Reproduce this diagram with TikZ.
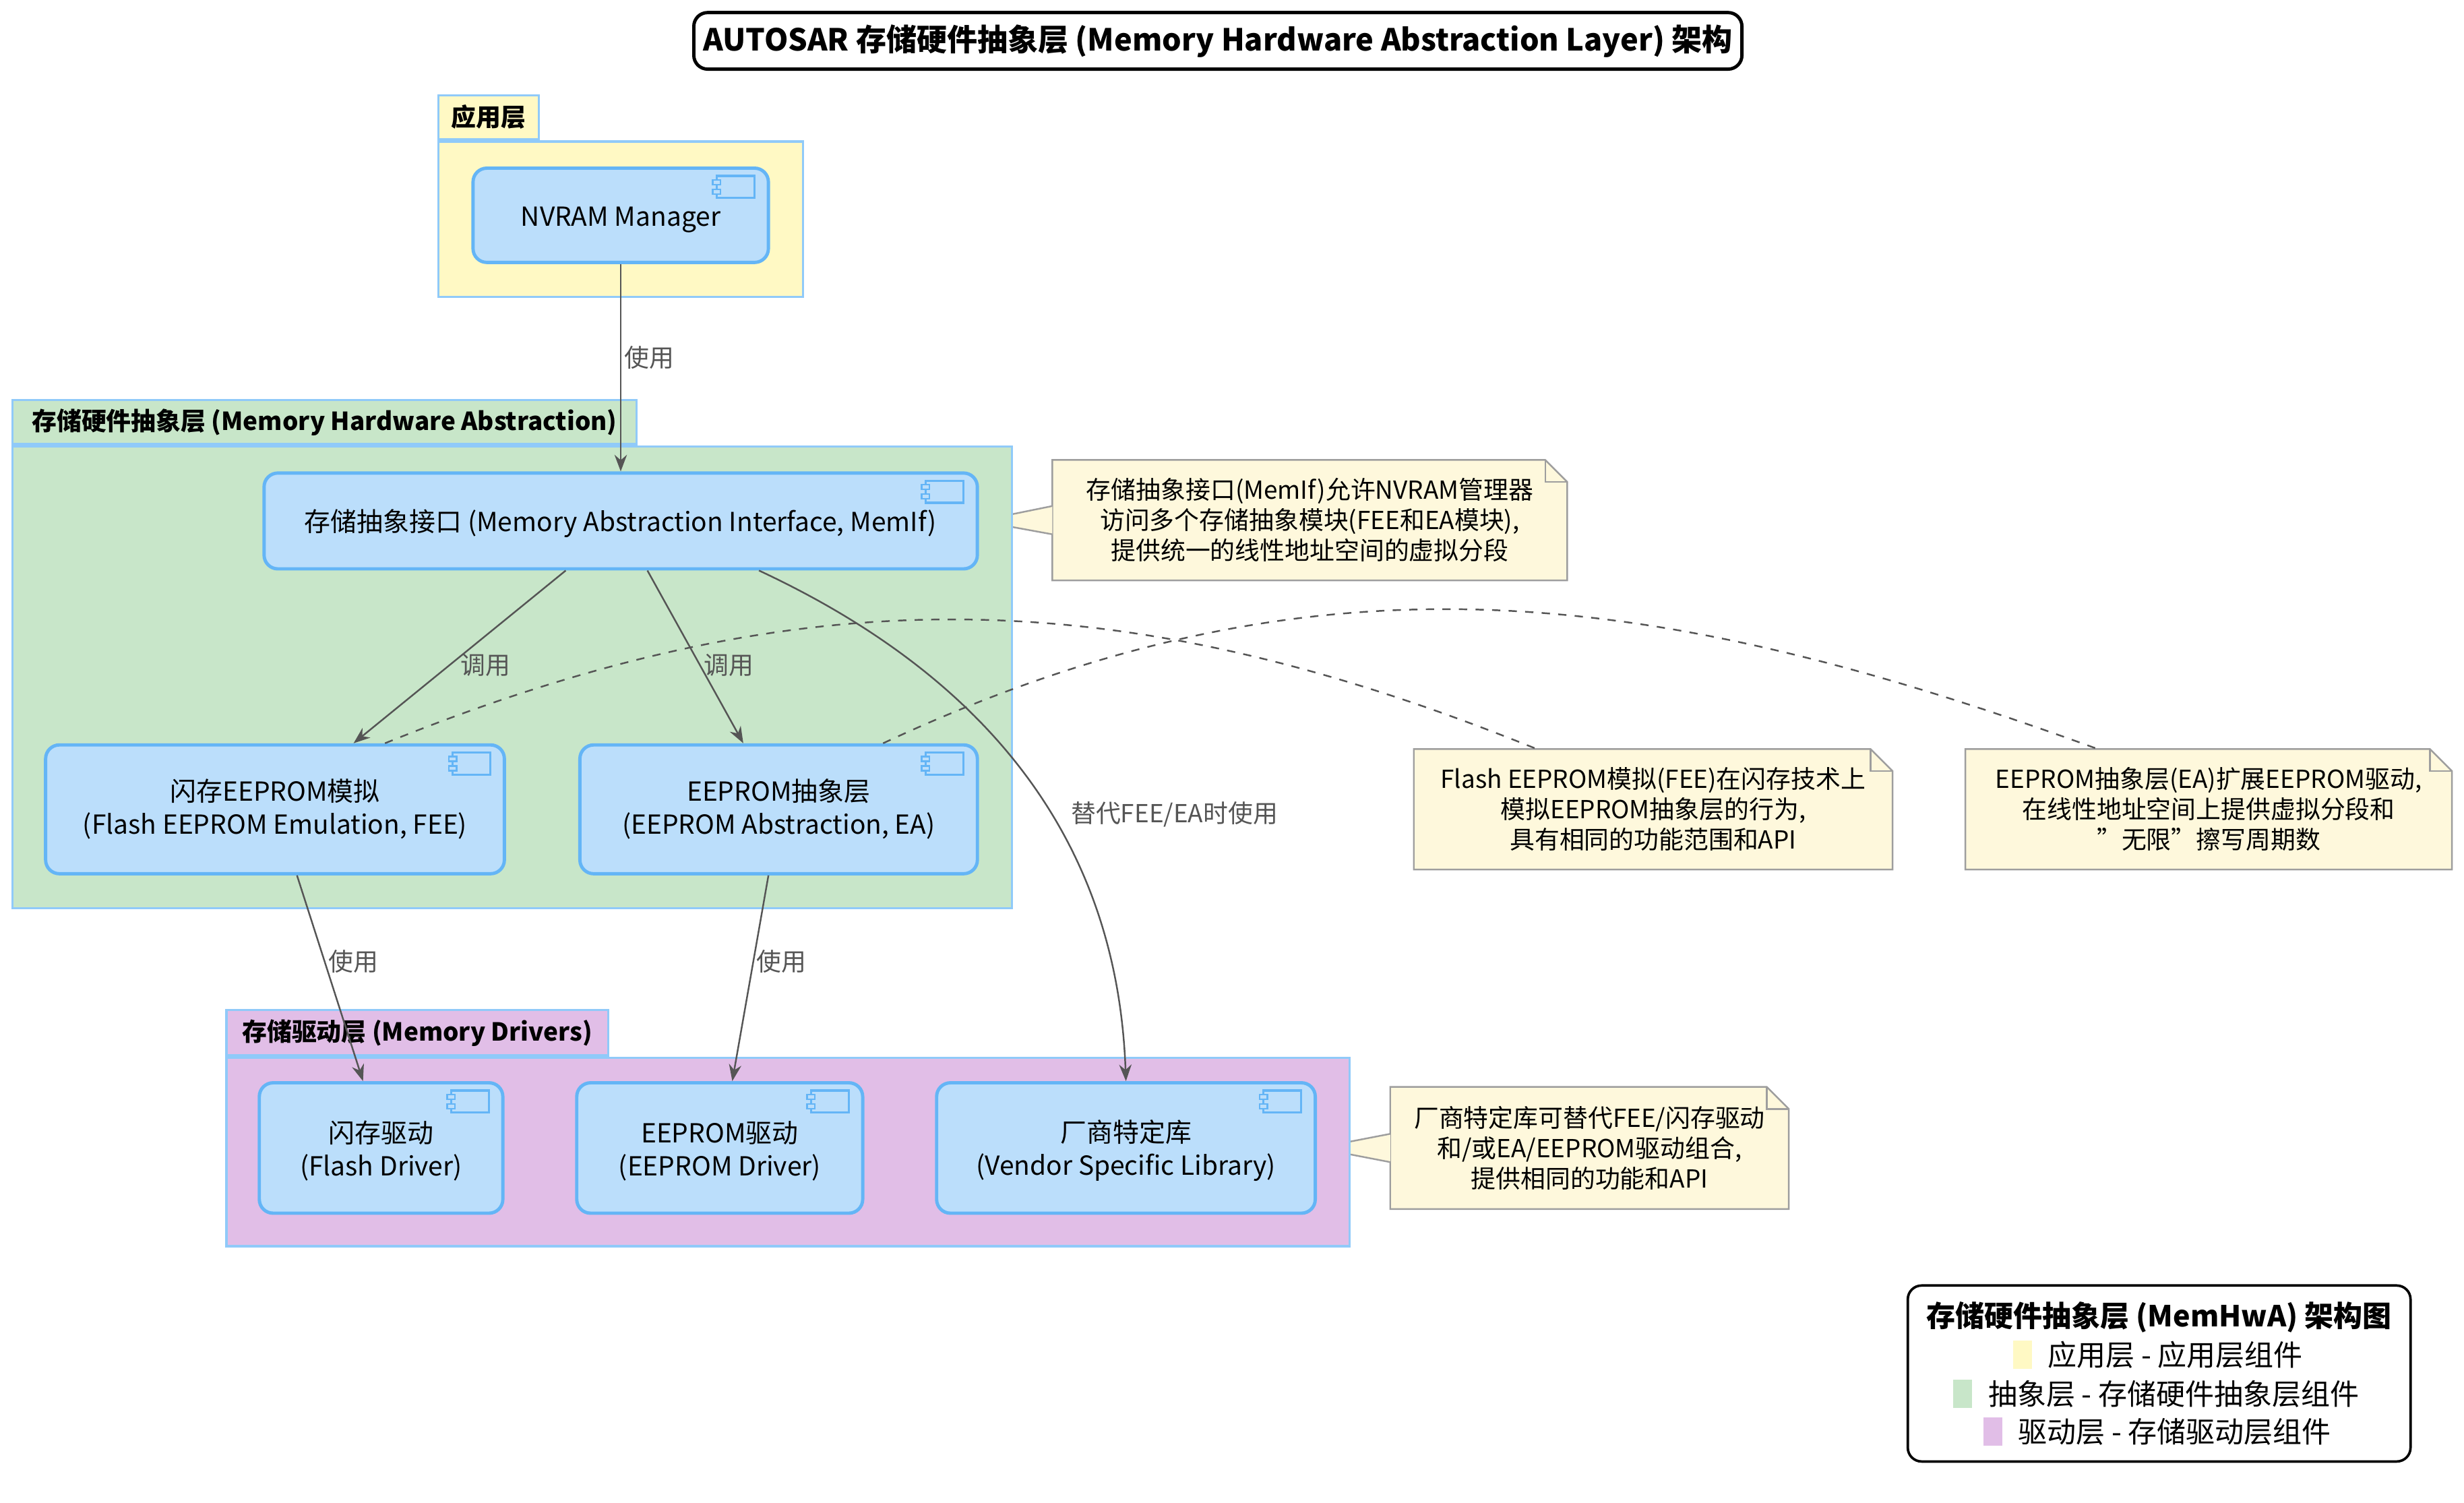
\documentclass[tikz,border=0pt]{standalone}
\usepackage{fontspec}
\setmainfont{Noto Sans CJK SC}
\usetikzlibrary{arrows.meta, positioning, backgrounds}
\definecolor{compfill}{HTML}{BBDEFB}
\definecolor{compline}{HTML}{64B5F6}
\definecolor{pkgline}{HTML}{90CAF9}
\definecolor{appfill}{HTML}{FFF9C4}
\definecolor{hwafill}{HTML}{C8E6C9}
\definecolor{drvfill}{HTML}{E1BEE7}
\definecolor{notefill}{HTML}{FEF8DC}
\definecolor{noteline}{HTML}{9E9E9E}
\definecolor{arrowc}{HTML}{555555}
\tikzset{
  comp/.style = {draw=compline, fill=compfill, line width=1.2pt, rounded corners=5pt,
      align=center, inner sep=0pt, font=\fontsize{9.5}{12}\selectfont},
  pkg/.style = {draw=pkgline, line width=0.8pt, inner sep=0pt},
  tab/.style = {draw=pkgline, line width=0.8pt, anchor=south west, inner sep=2pt,
      font=\bfseries\fontsize{9}{11}\selectfont},
  note/.style = {align=center, inner sep=0pt, font=\fontsize{9}{11}\selectfont},
  link/.style = {-{Stealth[length=6pt]}, arrowc, line width=0.6pt},
  lbl/.style = {font=\fontsize{9}{11}\selectfont, inner sep=1pt}
}
\begin{document}
\begin{tikzpicture}[x=0.02cm, y=-0.02cm]
  \useasboundingbox (0,0) rectangle (1568,956);

  % Title
  \node (title) [draw, line width=1.2pt, rounded corners=5pt, minimum width=13.16cm,
      minimum height=0.72cm, font=\bfseries\fontsize{11}{13}\selectfont] at (775,26)
      {AUTOSAR 存储硬件抽象层 (Memory Hardware Abstraction Layer) 架构};

  % Packages
  \node (app) [pkg, fill=appfill, minimum width=4.64cm, minimum height=1.98cm] at (395,139.5) {};
  \node (apptab) [tab, fill=appfill, minimum width=1.28cm, minimum height=0.56cm]
      at (app.north west) {应用层};
  \node (hwa) [pkg, fill=hwafill, minimum width=12.72cm, minimum height=5.88cm] at (326,431) {};
  \node (hwatab) [tab, fill=hwafill, minimum width=7.94cm, minimum height=0.56cm]
      at (hwa.north west) {存储硬件抽象层 (Memory Hardware Abstraction)};
  \node (drv) [pkg, fill=drvfill, minimum width=14.3cm, minimum height=2.4cm] at (501.5,733) {};
  \node (drvtab) [tab, fill=drvfill, minimum width=4.86cm, minimum height=0.58cm]
      at (drv.north west) {存储驱动层 (Memory Drivers)};

  % Components
  \node (nvram) [comp, minimum width=3.76cm, minimum height=1.2cm] at (395,137) {\\[-2pt]NVRAM Manager};
  \node (memif) [comp, minimum width=9.08cm, minimum height=1.22cm] at (395,331.5)
      {\\[-2pt]存储抽象接口 (Memory Abstraction Interface, MemIf)};
  \node (fee) [comp, minimum width=5.84cm, minimum height=1.64cm] at (175,515)
      {闪存EEPROM模拟\\(Flash EEPROM Emulation, FEE)};
  \node (ea) [comp, minimum width=5.06cm, minimum height=1.64cm] at (495.5,515)
      {EEPROM抽象层\\(EEPROM Abstraction, EA)};
  \node (fd) [comp, minimum width=3.1cm, minimum height=1.66cm] at (242.5,730.5)
      {\\[-2pt]闪存驱动\\(Flash Driver)};
  \node (ed) [comp, minimum width=3.64cm, minimum height=1.66cm] at (458,730.5)
      {\\[-2pt]EEPROM驱动\\(EEPROM Driver)};
  \node (vl) [comp, minimum width=4.82cm, minimum height=1.66cm] at (716.5,730.5)
      {\\[-2pt]厂商特定库\\(Vendor Specific Library)};

  % Component icons
  \foreach \n in {nvram, memif, fee, ea, fd, ed, vl} {
    \draw [compline, fill=compfill, line width=0.8pt]
      ([xshift=-0.2cm, yshift=-0.12cm]\n.north east) rectangle +(-0.48cm, -0.28cm);
    \draw [compline, fill=compfill, line width=0.6pt]
      ([xshift=-0.73cm, yshift=-0.17cm]\n.north east) rectangle +(0.1cm, -0.06cm);
    \draw [compline, fill=compfill, line width=0.6pt]
      ([xshift=-0.73cm, yshift=-0.29cm]\n.north east) rectangle +(0.1cm, -0.06cm);
  }

  % Notes
  \node (n1) [note, minimum width=6.54cm, minimum height=1.52cm] at (833.5,331)
      {存储抽象接口(MemIf)允许NVRAM管理器\\访问多个存储抽象模块(FEE和EA模块),\\提供统一的线性地址空间的虚拟分段};
  \node (n2) [note, minimum width=6.08cm, minimum height=1.52cm] at (1052,515)
      {Flash EEPROM模拟(FEE)在闪存技术上\\模拟EEPROM抽象层的行为,\\具有相同的功能范围和API};
  \node (n3) [note, minimum width=6.18cm, minimum height=1.52cm] at (1405.5,515)
      {EEPROM抽象层(EA)扩展EEPROM驱动,\\在线性地址空间上提供虚拟分段和\\"无限"擦写周期数};
  \node (n4) [note, minimum width=5.06cm, minimum height=1.54cm] at (1011.5,730.5)
      {厂商特定库可替代FEE/闪存驱动\\和/或EA/EEPROM驱动组合,\\提供相同的功能和API};
  \begin{pgfonlayer}{background}
  \foreach \n in {n1, n2, n3, n4} {
    \draw [noteline, fill=notefill, line width=0.6pt]
      (\n.south west) -- (\n.north west) -- ([xshift=-0.28cm]\n.north east)
      -- ([yshift=-0.28cm]\n.north east) -- (\n.south east) -- cycle;
    \draw [noteline, line width=0.6pt]
      ([xshift=-0.28cm]\n.north east) -- ([xshift=-0.28cm, yshift=-0.28cm]\n.north east)
      -- ([yshift=-0.28cm]\n.north east);
  }
  \foreach \n/\c in {n1/memif, n4/vl} {
    \draw [noteline, fill=notefill, line width=0.6pt]
      ([yshift=0.18cm]\n.west) -- (\c.east) -- ([yshift=-0.18cm]\n.west);
    \fill [notefill] ([yshift=0.17cm, xshift=0.02cm]\n.west) rectangle ([yshift=-0.17cm, xshift=0.06cm]\n.west);
  }
  \end{pgfonlayer}

  % Links
  \draw [link] (nvram) -- node [lbl, right, pos=0.45] {使用} (memif);
  \draw [link] ([xshift=-0.7cm]memif.south) -- node [lbl, right=3pt, pos=0.55] {调用} ([xshift=1cm]fee.north);
  \draw [link] ([xshift=0.34cm]memif.south) -- node [lbl, right, pos=0.55] {调用} ([xshift=-0.45cm]ea.north);
  \draw [link] ([xshift=1.76cm]memif.south) to [out=-25, in=92]
      node [lbl, pos=0.58, right=6pt] {替代FEE/EA时使用} (vl.north);
  \draw [link] ([xshift=0.28cm]fee.south) -- node [lbl, right, pos=0.42] {使用} ([xshift=-0.23cm]fd.north);
  \draw [link] ([xshift=-0.13cm]ea.south) -- node [lbl, right, pos=0.42] {使用} ([xshift=0.16cm]ed.north);

  % Note connectors
  \draw [arrowc, dashed, line width=0.6pt] ([xshift=1.4cm]fee.north) to [out=22, in=158] ([xshift=-1.48cm]n2.north);
  \draw [arrowc, dashed, line width=0.6pt] ([xshift=1.33cm]ea.north) to [out=25, in=160] ([xshift=-1.41cm]n3.north);

  % Legend
  \node (legend) [draw, line width=0.9pt, rounded corners=5pt, minimum width=6.4cm,
      minimum height=2.24cm] at (1374,874) {};
  \node (lgtitle) [font=\bfseries\fontsize{10.5}{12}\selectfont] at (1374,838) {存储硬件抽象层 (MemHwA) 架构图};
  \node (lg1) [font=\fontsize{10.5}{12}\selectfont, anchor=west] at (1297,862) {应用层 - 应用层组件};
  \node (lg2) [font=\fontsize{10.5}{12}\selectfont, anchor=west] at (1259,887) {抽象层 - 存储硬件抽象层组件};
  \node (lg3) [font=\fontsize{10.5}{12}\selectfont, anchor=west] at (1278,911) {驱动层 - 存储驱动层组件};
  \fill [appfill] (1281,853) rectangle (1293,871);
  \fill [hwafill] (1243,878) rectangle (1255,896);
  \fill [drvfill] (1262,902) rectangle (1274,920);
\end{tikzpicture}
\end{document}
